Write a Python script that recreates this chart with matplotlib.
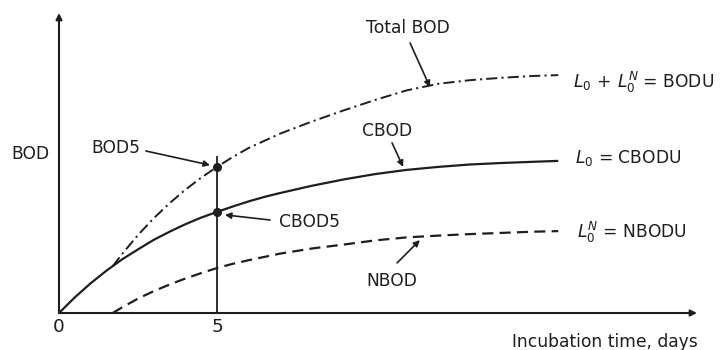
import matplotlib
matplotlib.use("Agg")
import matplotlib.pyplot as plt

plt.rcParams["font.family"] = ["DejaVu Sans"]
plt.rcParams["mathtext.fontset"] = "dejavusans"
plt.rcParams["lines.scale_dashes"] = False

INK = "#1e1e1e"

# Incubation time (days) and oxygen demand curves
t_cbod = [0, 0.5, 1, 1.5, 2, 2.5, 3, 3.5, 4, 4.5, 5, 5.5, 6, 6.5, 7, 8, 9, 10, 11, 12, 13, 14, 15, 15.8]
cbod = [0, 0.52, 0.99, 1.41, 1.79, 2.12, 2.44, 2.71, 2.96, 3.18, 3.37, 3.55, 3.72, 3.87, 4.0, 4.24, 4.45,
        4.63, 4.77, 4.87, 4.95, 5.0, 5.04, 5.07]

t_nbod = [1.7, 2, 2.5, 3, 3.5, 4, 4.5, 5, 5.5, 6, 7, 8, 9, 10, 11, 12, 13, 14, 15, 15.8]
nbod = [0, 0.19, 0.48, 0.73, 0.95, 1.15, 1.33, 1.5, 1.64, 1.76, 1.98, 2.15, 2.28, 2.42, 2.52, 2.58, 2.63,
        2.67, 2.71, 2.73]

t_total = [1.7, 2, 2.5, 3, 3.5, 4, 4.5, 5, 5.5, 6, 7, 8, 9, 10, 11, 12, 13, 14, 15, 15.8]
total = [1.56, 1.97, 2.6, 3.16, 3.66, 4.11, 4.51, 4.87, 5.2, 5.5, 5.98, 6.38, 6.75, 7.1, 7.42, 7.64, 7.76,
         7.84, 7.9, 7.93]

day5 = 5
bod5 = 4.87
cbod5 = 3.37

fig = plt.figure(figsize=(7.27, 3.5), dpi=100)
ax = fig.add_axes([0, 0, 1, 1])
ax.set_xlim(-1.867, 21.14)
ax.set_ylim(-1.233, 10.433)
ax.axis("off")

# axes with arrow heads
ax.annotate("", xy=(0, 10.0), xytext=(0, 0),
            arrowprops=dict(arrowstyle="-|>", lw=1.5, color=INK, mutation_scale=9, shrinkA=0, shrinkB=0))
ax.annotate("", xy=(20.19, 0), xytext=(0, 0),
            arrowprops=dict(arrowstyle="-|>", lw=1.5, color=INK, mutation_scale=9, shrinkA=0, shrinkB=0))

# curves
ax.plot(t_cbod, cbod, color=INK, lw=1.6, solid_capstyle="butt", solid_joinstyle="round")
ax.plot(t_nbod, nbod, color=INK, lw=1.6, dashes=(8, 4.5))
ax.plot(t_total, total, color=INK, lw=1.4, dashes=(8, 3, 1.5, 3))

# day-5 line and points
ax.plot([day5, day5], [0, 5.2], color=INK, lw=1.3)
ax.plot([day5, day5], [bod5, cbod5], "o", color=INK, ms=5.5)

fs = 12.3
ax.text(-0.89, 5.3, "BOD", fontsize=fs, color=INK, ha="center", va="center")
ax.text(0, -0.47, "0", fontsize=fs + 1, color=INK, ha="center", va="center")
ax.text(5, -0.47, "5", fontsize=fs + 1, color=INK, ha="center", va="center")
ax.text(20.22, -0.97, "Incubation time, days", fontsize=fs, color=INK, ha="right", va="center")

arrow = dict(arrowstyle="-|>", lw=1.2, color=INK, mutation_scale=9, shrinkA=0, shrinkB=0)

ax.text(1.8, 5.5, "BOD5", fontsize=fs, color=INK, ha="center", va="center")
ax.annotate("", xy=(4.78, 4.93), xytext=(2.75, 5.4), arrowprops=arrow)

ax.text(7.94, 3.03, "CBOD5", fontsize=fs, color=INK, ha="center", va="center")
ax.annotate("", xy=(5.25, 3.27), xytext=(6.68, 3.1), arrowprops=arrow)

ax.text(11.04, 9.5, "Total BOD", fontsize=fs, color=INK, ha="center", va="center")
ax.annotate("", xy=(11.74, 7.53), xytext=(11.11, 9.0), arrowprops=arrow)

ax.text(10.38, 6.07, "CBOD", fontsize=fs, color=INK, ha="center", va="center")
ax.annotate("", xy=(10.89, 4.87), xytext=(10.54, 5.67), arrowprops=arrow)

ax.text(10.54, 1.07, "NBOD", fontsize=fs, color=INK, ha="center", va="center")
ax.annotate("", xy=(11.42, 2.43), xytext=(10.7, 1.67), arrowprops=arrow)

ax.text(16.27, 7.7, r"$L_0\,+\,L_0^N$ = BODU", fontsize=fs, color=INK, ha="left", va="center")
ax.text(16.33, 5.17, r"$L_0$ = CBODU", fontsize=fs, color=INK, ha="left", va="center")
ax.text(16.4, 2.7, r"$L_0^N$ = NBODU", fontsize=fs, color=INK, ha="left", va="center")

fig.savefig("out.png", dpi=100, facecolor="white")
